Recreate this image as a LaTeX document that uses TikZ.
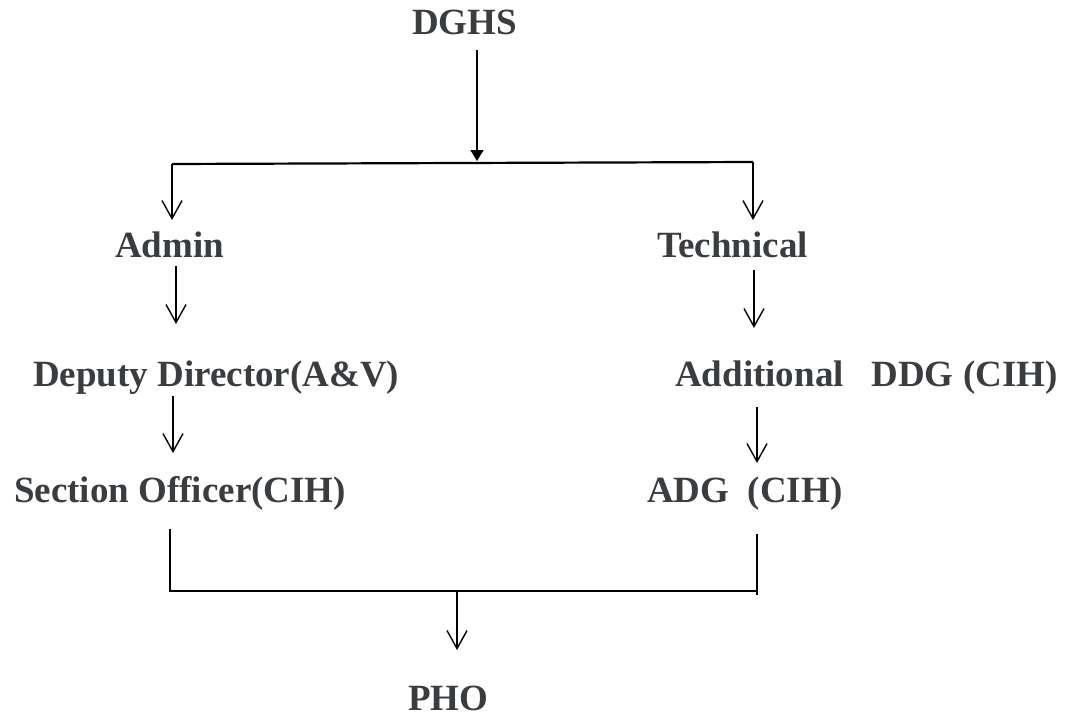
\documentclass[tikz,border=0pt]{standalone}
\usepackage{fontspec}
\setmainfont{Liberation Serif}
\usetikzlibrary{arrows.meta}
\definecolor{txt}{RGB}{58,61,64}
\tikzset{
  lbl/.style={anchor=base west, inner sep=0pt, text=txt, font=\fontsize{37}{40}\selectfont\bfseries},
  conn/.style={line width=1.4pt, black},
  bar/.style={line width=2.2pt, black},
  openarr/.style={conn, -{Straight Barb[length=18pt,width=20pt]}},
  fillarr/.style={conn, -{Triangle[length=11pt,width=13pt]}}
}
\begin{document}
\begin{tikzpicture}[x=1pt,y=1pt]
\useasboundingbox (0,0) rectangle (1074,-717);
% labels
\node[lbl] (dghs)    at (412,-35)  {DGHS};
\node[lbl] (admin)   at (115,-257) {Admin};
\node[lbl] (tech)    at (657,-257) {Technical};
\node[lbl] (deputy)  at (33,-386)  {Deputy Director(A\&V)};
\node[lbl] (addl)    at (675,-386) {Additional\ \ \ DDG (CIH)};
\node[lbl] (section) at (14,-502)  {Section Officer(CIH)};
\node[lbl] (adg)     at (647,-502) {ADG\ \ (CIH)};
\node[lbl] (pho)     at (408,-710) {PHO};
% connector points
\coordinate (t0) at (477,-50);
\coordinate (t1) at (477,-161);
\coordinate (bl) at (172,-164);
\coordinate (br) at (753,-162);
\coordinate (l1) at (172,-220);
\coordinate (r1) at (753,-220);
\coordinate (a0) at (176,-266);
\coordinate (a1) at (176,-324);
\coordinate (c0) at (754,-270);
\coordinate (c1) at (754,-328);
\coordinate (d0) at (173,-396);
\coordinate (d1) at (173,-453);
\coordinate (e0) at (757,-407);
\coordinate (e1) at (757,-463);
\coordinate (s0) at (170,-529);
\coordinate (s1) at (170,-592);
\coordinate (g0) at (757,-534);
\coordinate (g1) at (757,-595);
\coordinate (m0) at (457,-591);
\coordinate (m1) at (457,-650);
% connectors
\draw[fillarr] (t0) -- (t1);
\draw[bar] (bl) -- (br);
\draw[openarr] (bl) -- (l1);
\draw[openarr] (br) -- (r1);
\draw[openarr] (a0) -- (a1);
\draw[openarr] (c0) -- (c1);
\draw[openarr] (d0) -- (d1);
\draw[openarr] (e0) -- (e1);
\draw[bar] (s0) -- (s1);
\draw[bar] (g0) -- (g1);
\draw[bar] (s1 |- m0) -- (g0 |- m0);
\draw[openarr] (m0) -- (m1);
\end{tikzpicture}
\end{document}
